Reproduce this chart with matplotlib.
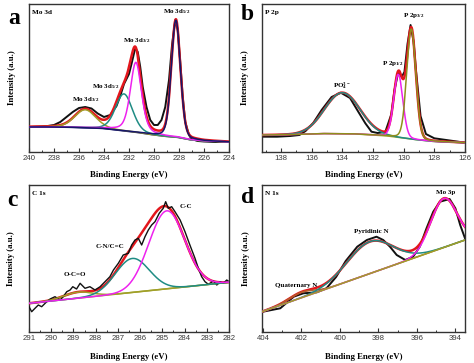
import numpy as np
import matplotlib
matplotlib.use("Agg")
import matplotlib.pyplot as plt

plt.rcParams['font.family'] = ['Liberation Serif', 'DejaVu Serif']
plt.rcParams['mathtext.fontset'] = 'custom'
plt.rcParams['mathtext.rm'] = 'Liberation Serif:bold'
plt.rcParams['mathtext.bf'] = 'Liberation Serif:bold'
plt.rcParams['mathtext.default'] = 'rm'

# ---------------- data (intensity in arbitrary units) ----------------
# Mo 3d
mo_centers = [235.5, 232.4, 231.45, 228.25]
mo_heights = [18, 37, 70, 117]
mo_fwhm = [2.0, 1.6, 1.05, 0.85]
mo_bg_e = [240, 238, 236, 234, 233, 232, 231, 230, 229, 228, 227, 226, 224]
mo_bg_h = [25, 25, 24.5, 23.5, 22, 20.5, 19, 17, 15.5, 14.5, 12, 11, 10]
mo_raw_e = [240, 239, 238.5, 238, 237.5, 237, 236.5, 236, 235.5, 235, 234.5, 234, 233.5,
            233, 232.7, 232.4, 232, 231.8, 231.5, 231.3, 231.1, 230.9, 230.6, 230.3, 230,
            229.7, 229.4, 229.1, 228.8, 228.55, 228.3, 228.1, 227.9, 227.7, 227.5, 227.2,
            227, 226.5, 226, 225, 224]
mo_raw_h = [25, 25.5, 26, 27, 30, 35, 40, 44, 45, 43.5, 38.5, 35, 37,
            46, 56, 68, 78, 88, 104, 100, 85, 65, 45, 32, 27,
            27, 32, 45, 72, 108, 132, 122, 90, 55, 30, 17,
            13, 11, 10.5, 10, 10]

# P 2p
p_centers = [134.0, 130.35, 129.5]
p_heights = [41, 63, 110]
p_fwhm = [2.7, 0.7, 0.7]
p_bg_e = [139.24, 137, 135, 133, 132, 131, 130, 129, 128, 126]
p_bg_h = [17, 17.5, 18.5, 18, 17, 16, 14, 12, 10.5, 9.3]
p_raw_e = [139.24, 138.26, 137.4, 136.8, 136.4, 135.9, 135.35, 134.7, 134.1, 133.5,
           132.95, 132.5, 132.1, 131.7, 131.2, 130.8, 130.6, 130.35, 130.13, 129.95,
           129.75, 129.55, 129.35, 129.2, 128.9, 128.55, 128.0, 126.9, 126.0]
p_raw_h = [15.3, 15.3, 16, 17, 21, 29, 42, 55, 59.3, 54,
           40, 28.7, 20.3, 19, 20, 38, 62, 80, 75, 80,
           108, 127, 110, 82, 36, 18, 13.7, 11.3, 9.3]

# C 1s
c_centers = [288.8, 286.35, 284.8]
c_heights = [6, 34, 78]
c_fwhm = [1.5, 1.8, 1.9]
c_bg_e = [291, 282]
c_bg_h = [28.7, 49.7]
c_raw_e = [291, 290.88, 290.73, 290.58, 290.43, 290.2, 290.05, 289.83, 289.6, 289.46,
           289.3, 289.15, 289.03, 288.86, 288.7, 288.48, 288.26, 288.03, 287.8, 287.58,
           287.36, 287.2, 286.98, 286.76, 286.53, 286.38, 286.23, 286.08, 285.93, 285.78,
           285.63, 285.48, 285.33, 285.14, 284.96, 284.85, 284.73, 284.58, 284.43, 284.2,
           283.98, 283.76, 283.53, 283.38, 283.23, 283.08, 282.93, 282.7, 282.55, 282.4,
           282.26, 282.1, 282.0]
c_raw_h = [25.3, 20.3, 23.7, 27, 25.3, 30.3, 33, 35.3, 32, 35.3,
           40.3, 42, 45.3, 43, 48.7, 43.7, 45.3, 42, 45.3, 50.3,
           55.3, 62, 68.7, 77, 78.7, 87, 92, 93.7, 87, 95.3,
           102, 107, 110.3, 118.7, 123.7, 130.3, 123.7, 125.3, 120.3, 112,
           100.3, 87, 73.7, 63.7, 55.3, 50.3, 47.7, 51, 47, 50.3,
           48.7, 52, 50.3]

# N 1s
n_centers = [402.0, 398.45, 394.6]
n_heights = [5.5, 32, 49]
n_fwhm = [1.5, 2.8, 1.6]
n_bg_e = [404.05, 393.5]
n_bg_h = [20.3, 92]
n_raw_e = [404, 403.1, 402.4, 401.9, 401.2, 400.7, 400.2, 399.7, 399.1, 398.6, 398.1,
           397.75, 397.4, 397.05, 396.6, 396.2, 395.85, 395.5, 395.15, 394.8, 394.3,
           394.0, 393.75, 393.5]
n_raw_h = [20.3, 23.7, 35.3, 38.7, 39.7, 43.7, 55, 71, 85.3, 92, 95.3,
           92, 85.3, 77, 72, 75.3, 85.3, 103.7, 120.3, 130.3, 133,
           123.7, 107, 93.7]

RED = '#e3161c'
NAVY = '#16166a'
MAG = '#ee22ee'
TEAL = '#1f8c84'
OLIVE = '#a0a028'


def pvoigt(x, c, amp, fwhm, eta):
    g = np.exp(-4 * np.log(2) * ((x - c) / fwhm) ** 2)
    l = 1 / (1 + 4 * ((x - c) / fwhm) ** 2)
    return amp * ((1 - eta) * g + eta * l)


def background(x, be, bh):
    order = np.argsort(be)
    return np.interp(x, np.array(be)[order], np.array(bh)[order])


def style_axes(ax, xlim, ylim, major, minor, title, xlab_y):
    ax.set_xlim(*xlim)
    ax.set_ylim(*ylim)
    ax.set_xticks(major)
    ax.set_xticks(minor, minor=True)
    ax.set_yticks([])
    ax.tick_params(axis='x', which='both', direction='in', top=False, pad=2.5,
                   labelsize=5.6, labelcolor='#3a3a3a', colors='#333333')
    ax.tick_params(axis='x', which='major', length=3, width=0.8)
    ax.tick_params(axis='x', which='minor', length=1.8, width=0.7)
    for lab in ax.get_xticklabels():
        lab.set_family('Liberation Sans')
    for s in ax.spines.values():
        s.set_color('#333333')
        s.set_linewidth(1.0)
    ax.set_xlabel('Binding Energy (eV)', fontsize=6.3, fontweight='bold')
    ax.xaxis.set_label_coords(0.5, xlab_y)
    ax.set_ylabel('Intensity (a.u.)', fontsize=6.3, fontweight='bold')
    ax.text(0.015, 0.945, title, transform=ax.transAxes, fontsize=5.2,
            fontweight='bold', va='center', ha='left')


def draw_panel(ax, x, bg, centers, heights, fwhm, etas, colors, raw_e, raw_h, raw_top=False):
    comps = [pvoigt(x, c, a, w, e) for c, a, w, e in zip(centers, heights, fwhm, etas)]
    env = bg + np.sum(comps, axis=0)
    ax.plot(raw_e, raw_h, color='#111111', lw=1.0 if raw_top else 1.4,
            zorder=3.5 if raw_top else 2)
    ax.plot(x, env, color=RED, lw=1.8, zorder=3)
    for comp, col in zip(comps, colors):
        ax.plot(x, bg + comp, color=col, lw=1.1, zorder=4)


fig = plt.figure(figsize=(4.74, 3.63), dpi=100)
W, H = 474, 363


def add_ax(l, t, r, b):
    return fig.add_axes([l / W, 1 - b / H, (r - l) / W, (b - t) / H])


# a: Mo 3d
ax = add_ax(29, 4, 229, 152)
x = np.linspace(224, 240, 800)
bg = background(x, mo_bg_e, mo_bg_h)
ax.plot(x, bg, color=NAVY, lw=1.1, zorder=1)
draw_panel(ax, x, bg, mo_centers, mo_heights, mo_fwhm, [0.2, 0.2, 0.4, 0.2],
           [OLIVE, TEAL, MAG, NAVY], mo_raw_e, mo_raw_h)
style_axes(ax, (240, 224), (0, 148), np.arange(240, 223, -2), np.arange(239, 224, -2),
           'Mo 3d', -0.13)
ax.yaxis.set_label_coords(-0.065, 0.5)
ax.text(228.2, 140, r'Mo 3d$_{5/2}$', fontsize=5, fontweight='bold', ha='center', va='center')
ax.text(231.4, 111, r'Mo 3d$_{3/2}$', fontsize=5, fontweight='bold', ha='center', va='center')
ax.text(233.9, 65, r'Mo 3d$_{5/2}$', fontsize=5, fontweight='bold', ha='center', va='center')
ax.text(235.5, 52, r'Mo 3d$_{3/2}$', fontsize=5, fontweight='bold', ha='center', va='center')

# b: P 2p
ax = add_ax(262, 4, 465, 152)
x = np.linspace(126, 139.24, 800)
bg = background(x, p_bg_e, p_bg_h)
ax.plot(x, bg, color=OLIVE, lw=1.1, zorder=1)
draw_panel(ax, x, bg, p_centers, p_heights, p_fwhm, [0.0, 0.1, 0.1],
           [TEAL, MAG, '#8f8f1c'], p_raw_e, p_raw_h)
style_axes(ax, (139.24, 126), (0, 148), np.arange(138, 125, -2), np.arange(139, 126, -2),
           'P 2p', -0.13)
ax.yaxis.set_label_coords(-0.062, 0.5)
ax.text(129.37, 136, r'P 2p$_{3/2}$', fontsize=5, fontweight='bold', ha='center', va='center')
ax.text(130.68, 89, r'P 2p$_{1/2}$', fontsize=5, fontweight='bold', ha='center', va='center')
ax.text(134.0, 66, r'PO$_4^{3-}$', fontsize=5, fontweight='bold', ha='center', va='center')

# c: C 1s
ax = add_ax(29, 185, 229, 332)
x = np.linspace(282, 291, 800)
bg = background(x, c_bg_e, c_bg_h)
ax.plot(x, bg, color=OLIVE, lw=1.1, zorder=1)
draw_panel(ax, x, bg, c_centers, c_heights, c_fwhm, [0.0, 0.0, 0.0],
           [OLIVE, TEAL, MAG], c_raw_e, c_raw_h, raw_top=True)
style_axes(ax, (291, 282), (0, 147), np.arange(291, 281, -1), np.arange(290.5, 282, -1),
           'C 1s', -0.145)
ax.yaxis.set_label_coords(-0.07, 0.5)
ax.text(283.95, 126, 'C-C', fontsize=5, fontweight='bold', ha='center', va='center')
ax.text(287.35, 86, 'C-N/C=C', fontsize=5, fontweight='bold', ha='center', va='center')
ax.text(288.93, 57, 'O-C=O', fontsize=5, fontweight='bold', ha='center', va='center')

# d: N 1s
ax = add_ax(262, 185, 465, 332)
x = np.linspace(393.5, 404.05, 800)
bg = background(x, n_bg_e, n_bg_h)
draw_panel(ax, x, bg, n_centers, n_heights, n_fwhm, [0.0, 0.0, 0.0],
           ['#b0602a', TEAL, MAG], n_raw_e, n_raw_h)
ax.plot(x, bg, color=OLIVE, lw=1.1, zorder=5)
style_axes(ax, (404.05, 393.5), (0, 147), np.arange(404, 393, -2), np.arange(403, 393, -2),
           'N 1s', -0.145)
ax.yaxis.set_label_coords(-0.06, 0.5)
ax.text(394.5, 140, 'Mo 3p', fontsize=5, fontweight='bold', ha='center', va='center')
ax.text(398.36, 101, 'Pyridinic N', fontsize=5, fontweight='bold', ha='center', va='center')
ax.text(402.27, 47, 'Quaternary N', fontsize=5, fontweight='bold', ha='center', va='center')

# panel letters
for lx, ly, lt in [(14, 18, 'a'), (247, 15, 'b'), (12, 200, 'c'), (248, 198, 'd')]:
    fig.text(lx / W, 1 - ly / H, lt, fontsize=17, fontweight='bold', ha='center', va='center')

fig.savefig('out.png', dpi=100)
